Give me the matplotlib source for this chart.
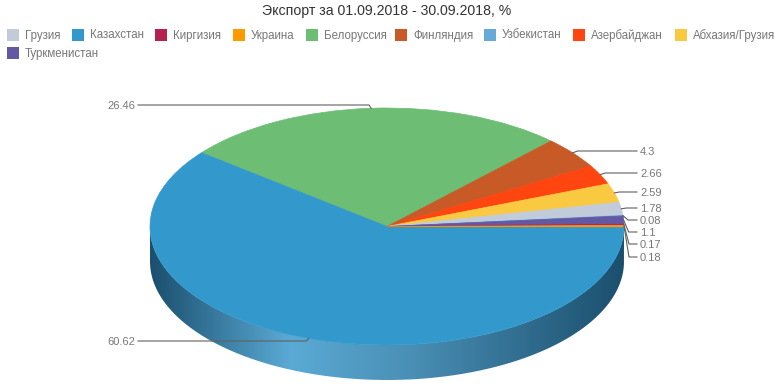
# Export share pie chart, drawn as a tilted disc
import matplotlib
matplotlib.use("Agg")
import matplotlib.pyplot as plt
from matplotlib.colors import LinearSegmentedColormap
from matplotlib.patches import PathPatch, Rectangle
from matplotlib.path import Path
import numpy as np

plt.rcParams["font.family"] = ["Liberation Sans", "DejaVu Sans"]

# Chart data, in legend order
countries = ["Грузия", "Казахстан", "Киргизия", "Украина", "Белоруссия",
             "Финляндия", "Узбекистан", "Азербайджан", "Абхазия/Грузия", "Туркменистан"]
shares = [1.78, 60.62, 0.17, 0.18, 26.46, 4.3, 0.08, 2.66, 2.59, 1.1]
colors = ["#c1cbd9", "#3399cc", "#b5214f", "#ff9900", "#6dbd75",
          "#c85a28", "#66aad8", "#ff4510", "#f9c942", "#6457a4"]

# Order of the slices clockwise round the pie
pieOrder = [4, 5, 7, 8, 0, 6, 9, 2, 3, 1]

# Layout in pixels
WIDTH, HEIGHT = 774, 387
CENTER_X, CENTER_Y = 387, 226.5
RADIUS_X, RADIUS_Y = 237, 118.5
DEPTH = 35
START_ANGLE = 141.5

legendX = [7, 72, 155, 233, 306, 395, 484, 573, 675, 7]
legendY = [29, 29, 29, 29, 29, 29, 29, 29, 29, 47]

# Height of each value label, same order as pieOrder
labelY = [105, 151, 173, 192, 208, 220, 232, 244, 257, 341]
labelLeftX = 135
labelRightX = 640


def pxX(x):
    return (x - CENTER_X) / RADIUS_X


def pxY(y):
    return (CENTER_Y - y) / RADIUS_Y


def main():
    fig = plt.figure(figsize=(WIDTH / 100, HEIGHT / 100), dpi=100)
    ax = fig.add_axes([0, 0, 1, 1])

    # Side wall of the disc with a horizontal gradient
    depth = DEPTH / RADIUS_Y
    theta = np.linspace(np.pi, 2 * np.pi, 300)
    wallTop = np.column_stack([np.cos(theta), np.sin(theta)])
    wallBottom = np.column_stack([np.cos(theta), np.sin(theta) - depth])[::-1]
    wallPath = Path(np.vstack([wallTop, wallBottom, wallTop[:1]]))
    wallMap = LinearSegmentedColormap.from_list(
        "wall", [(0, "#1b4f6e"), (0.295, "#5aaad5"), (0.55, "#4a8fb5"), (1, "#1b4f6e")])
    wall = ax.imshow(np.linspace(0, 1, 512).reshape(1, -1), cmap=wallMap, aspect="auto",
                     extent=[-1, 1, -1 - depth, 0], zorder=1)
    wallPatch = PathPatch(wallPath, facecolor="none", edgecolor="none", transform=ax.transData)
    ax.add_patch(wallPatch)
    wall.set_clip_path(wallPatch)

    # Top of the disc, thin edge in slice colour keeps the tiny slices visible
    pieValues = [shares[i] for i in pieOrder]
    pieColors = [colors[i] for i in pieOrder]
    wedges, _ = ax.pie(pieValues, colors=pieColors, startangle=START_ANGLE, counterclock=False)
    for wedge, color, value in zip(wedges, pieColors, pieValues):
        wedge.set_zorder(2 if value > 10 else 2.5)  # big slices must not cover the tiny ones
        wedge.set_edgecolor(color)
        wedge.set_linewidth(0.5)

    ax.set_aspect("auto")
    ax.set_xlim(pxX(0), pxX(WIDTH))
    ax.set_ylim(pxY(HEIGHT), pxY(0))
    ax.axis("off")

    # Value labels with leader lines
    angle = START_ANGLE
    total = sum(pieValues)
    for value, y in zip(pieValues, labelY):
        sweep = value / total * 360
        mid = np.radians(angle - sweep / 2)
        angle -= sweep
        edgeX, edgeY = np.cos(mid), np.sin(mid)
        onLeft = y in (105, 341)
        if onLeft:
            elbowX = edgeX - 2 / RADIUS_X
            endX = pxX(labelLeftX + 3)
            textX, align = pxX(labelLeftX), "right"
        else:
            elbowX = edgeX + 5 / RADIUS_X
            endX = pxX(labelRightX - 3)
            textX, align = pxX(labelRightX), "left"
        ax.plot([edgeX, elbowX, endX], [edgeY, pxY(y), pxY(y)], color="#606060", lw=0.8, zorder=3)
        ax.text(textX, pxY(y + 0.7), str(value), ha=align, va="center", fontsize=8, color="#777777", zorder=4)

    # Legend
    for name, color, x, y in zip(countries, colors, legendX, legendY):
        ax.add_patch(Rectangle((pxX(x), pxY(y + 12)), 12 / RADIUS_X, 12 / RADIUS_Y,
                               facecolor=color, edgecolor="none", zorder=3))
        ax.text(pxX(x + 18), pxY(y + 6.5), name, ha="left", va="center",
                fontsize=8.3, color="#777777", zorder=4)

    # Title
    ax.text(pxX(387), pxY(11.5), "Экспорт за 01.09.2018 - 30.09.2018, %", ha="center", va="center",
            fontsize=10.2, color="#333333", zorder=4)

    fig.savefig("out.png", dpi=100)


if __name__ == "__main__":
    main()
